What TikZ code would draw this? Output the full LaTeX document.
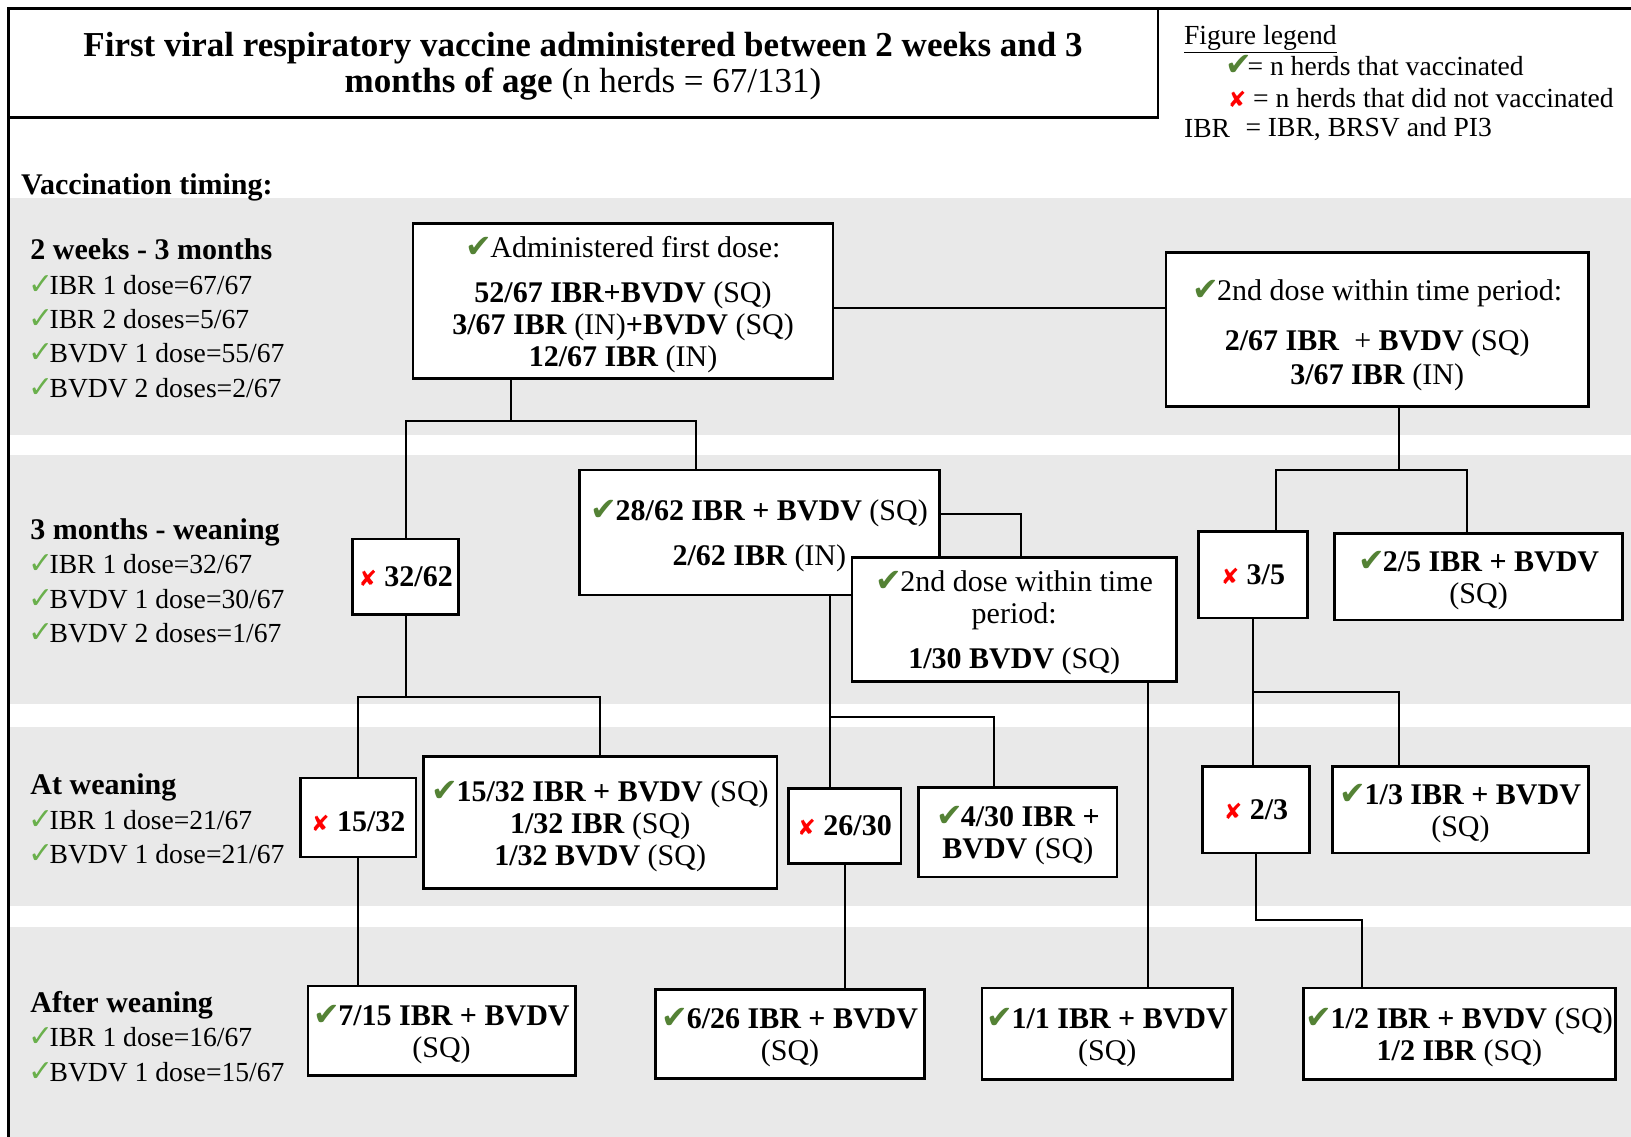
\documentclass[tikz,border=0pt]{standalone}
\usepackage{fontspec}
\setmainfont{Liberation Serif}
\newfontfamily\symf{DejaVu Sans}
\usetikzlibrary{calc}
\definecolor{ckg}{RGB}{84,130,53}
\definecolor{ckl}{RGB}{106,176,76}
\definecolor{bandc}{RGB}{233,233,233}
\newcommand\ck{{\symf\fontsize{16}{16}\selectfont\color{ckg}✔}\kern-1pt}
\newcommand\ckl{{\symf\fontsize{15}{15}\selectfont\color{ckl}✓}\kern-2pt}
\newcommand\xx{{\symf\fontsize{11}{11}\selectfont\color{red}✘}}
\newcommand\up{\rule{0pt}{14pt}}
\begin{document}
\begin{tikzpicture}[x=0.52pt,y=-0.52pt,
  box/.style={draw,line width=1.3pt,fill=white,inner sep=0pt,align=center,font=\fontsize{15}{16}\selectfont},
  sz/.style 2 args={minimum width=#1*0.52pt,minimum height=#2*0.52pt},
  con/.style={line width=1pt},
  lab/.style={anchor=west,inner sep=0pt,align=left,font=\fontsize{13.8}{17.2}\selectfont},
  leg/.style={anchor=west,inner sep=0pt,font=\fontsize{13.8}{16}\selectfont},
  head/.style={anchor=west,inner sep=0pt,font=\bfseries\fontsize{15}{16}\selectfont},
]
\useasboundingbox (0,0) rectangle (1568,1093);
% bands
\fill[bandc] (10,190) rectangle (1568,418);
\fill[bandc] (10,437) rectangle (1568,677);
\fill[bandc] (10,699) rectangle (1568,871);
\fill[bandc] (10,891) rectangle (1568,1093);
% frame
\draw[line width=1.2pt] (1568,8) -- (8,8) -- (8,1093);
\node[draw,line width=1.2pt,sz={1105}{105},inner sep=0pt,align=center,
      font=\fontsize{17.5}{17.7}\selectfont] (title) at (560.5,60.5)
  {\rule{0pt}{15.3pt}\textbf{First viral respiratory vaccine administered between 2 weeks and 3}\\
   \textbf{months of age} (n herds = 67/131)};
% legend
\node[leg] (lg1) at (1138,38) {\underline{Figure legend}};
\node[leg] (lg2) at (1178,63) {\ck\kern-1.5pt= n herds that vaccinated};
\node[leg] (lg3) at (1180,94) {\xx\ = n herds that did not vaccinated};
\node[leg] (lg4) at (1138,124) {IBR};
\node[leg] (lg5) at (1197,124) {= IBR, BRSV and PI3};
% left labels
\node[head] (vt) at (20,180) {Vaccination timing:};
\node[lab] (g1) at (27,306) {{\bfseries\fontsize{15}{17.2}\selectfont\kern1pt 2 weeks - 3 months}\\
  \ckl IBR 1 dose=67/67\\ \ckl IBR 2 doses=5/67\\ \ckl BVDV 1 dose=55/67\\ \ckl BVDV 2 doses=2/67};
\node[lab] (g2) at (27,558.5) {{\bfseries\fontsize{15}{17.2}\selectfont\kern1pt 3 months - weaning}\\
  \ckl IBR 1 dose=32/67\\ \ckl BVDV 1 dose=30/67\\ \ckl BVDV 2 doses=1/67};
\node[lab] (g3) at (27,787.5) {{\bfseries\fontsize{15}{17.2}\selectfont\kern1pt At weaning}\\
  \ckl IBR 1 dose=21/67\\ \ckl BVDV 1 dose=21/67};
\node[lab] (g4) at (27,996.5) {{\bfseries\fontsize{15}{17.2}\selectfont\kern1pt After weaning}\\
  \ckl IBR 1 dose=16/67\\ \ckl BVDV 1 dose=15/67};
% boxes
\node[box,sz={404}{149}] (A) at (599,289.5)
  {\up\ck Administered first dose:\\[6.9pt]
   \textbf{52/67 IBR+BVDV} (SQ)\\
   \textbf{3/67 IBR} (IN)\textbf{+BVDV} (SQ)\\
   \textbf{12/67 IBR} (IN)};
\node[box,sz={406}{148}] (B) at (1324,317)
  {\rule{0pt}{16pt}\ck 2nd dose within time period:\\[9pt]
   \textbf{2/67 IBR}\ \ + \textbf{BVDV} (SQ)\\[1pt]
   \textbf{3/67 IBR} (IN)};
\node[box,sz={102}{73}] (C) at (390,554.5) {\xx\ \textbf{32/62}};
\node[box,sz={346}{120}] (D) at (730,512)
  {\up\ck\textbf{28/62 IBR + BVDV} (SQ)\\[6.4pt] \textbf{2/62 IBR} (IN)};
\node[box,sz={312}{119}] (E) at (975,595.5)
  {\up\ck 2nd dose within time\\ period:\\[6.4pt] \textbf{1/30 BVDV} (SQ)};
\node[box,sz={105}{83}] (F) at (1204.5,552.5) {\xx\ \textbf{3/5}};
\node[box,sz={277}{83}] (G) at (1421.5,554.5) {\up\ck\textbf{2/5 IBR + BVDV}\\ (SQ)};
\node[box,sz={111}{76}] (H) at (344.5,786) {\up\xx\ \textbf{15/32}};
\node[box,sz={340}{127}] (I) at (577,790.5)
  {\up\ck\textbf{15/32 IBR + BVDV} (SQ)\\ \textbf{1/32 IBR} (SQ)\\ \textbf{1/32 BVDV} (SQ)};
\node[box,sz={108}{72}] (J) at (812,794) {\xx\ \textbf{26/30}};
\node[box,sz={191}{86}] (K) at (978.5,800) {\up\ck\textbf{4/30 IBR +}\\ \textbf{BVDV} (SQ)};
\node[box,sz={103}{83}] (L) at (1207.5,778.5) {\xx\ \textbf{2/3}};
\node[box,sz={246}{83}] (M) at (1404,778.5) {\up\ck\textbf{1/3 IBR + BVDV}\\ (SQ)};
\node[box,sz={257}{86}] (O) at (424.5,991) {\up\ck\textbf{7/15 IBR + BVDV}\\ (SQ)};
\node[box,sz={259}{86}] (P) at (759.5,994) {\up\ck\textbf{6/26 IBR + BVDV}\\ (SQ)};
\node[box,sz={241}{88}] (N) at (1064.5,994) {\up\ck\textbf{1/1 IBR + BVDV}\\ (SQ)};
\node[box,sz={300}{88}] (Q) at (1403,994)
  {\up\ck\textbf{1/2 IBR + BVDV} (SQ)\\ \textbf{1/2 IBR} (SQ)};
% junction coordinates
\coordinate (ab) at (0,296);
\coordinate (j1) at (491,405);
\coordinate (jD) at (669,405);
\coordinate (de) at (982,494);
\coordinate (jB) at (1345,452);
\coordinate (jF) at (1227,452);
\coordinate (jG) at (1410,452);
\coordinate (jC) at (390,670);
\coordinate (jJ) at (798,689);
\coordinate (jK) at (956,689);
\coordinate (jE) at (1104,0);
\coordinate (jM) at (1345,665);
\coordinate (jQ) at (1309,884);
% connectors
\draw[con] (A.east |- ab) -- (B.west |- ab);
\draw[con] (A.south -| j1) -- (j1);
\draw[con] (C.north) |- (jD) -- (D.north -| jD);
\draw[con] (D.east |- de) -| (E.north -| de);
\draw[con] (B.south -| jB) -- (jB);
\draw[con] (F.north -| jF) |- (jG) -- (G.north -| jG);
\draw[con] (C.south) -- (jC);
\draw[con] (H.north) |- (jC) -| (I.north);
\draw[con] (D.south -| jJ) -- (J.north -| jJ);
\draw[con] (jJ) -- (jK) -- (K.north -| jK);
\draw[con] (E.south -| jE) -- (N.north -| jE);
\draw[con] (F.south) -- (L.north -| F.south);
\draw[con] (F.south |- jM) -- (jM) -- (M.north -| jM);
\draw[con] (L.south) |- (jQ) -- (Q.north -| jQ);
\draw[con] (H.south) -- (O.north -| H.south);
\draw[con] (J.south) -- (P.north -| J.south);
\end{tikzpicture}
\end{document}
